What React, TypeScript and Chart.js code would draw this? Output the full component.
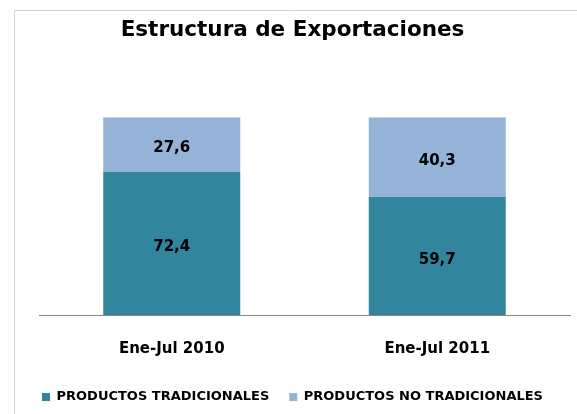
import React, { useEffect, useRef } from "react";
import { Chart, registerables } from "chart.js";

Chart.register(...registerables);

const categories = ["Ene-Jul 2010", "Ene-Jul 2011"];
const tradicionales = [72.4, 59.7];
const noTradicionales = [27.6, 40.3];
const seriesNames = ["PRODUCTOS TRADICIONALES", "PRODUCTOS NO TRADICIONALES"];
const seriesColors = ["#31859C", "#95B3D7"];
const chartTitle = "Estructura de Exportaciones";
const yMax = 100;

const FONT = "'DejaVu Sans', Verdana, sans-serif";

const framePlugin = {
  id: "frame",
  beforeDraw(chart: any) {
    const ctx = chart.ctx;
    ctx.save();
    ctx.fillStyle = "#ffffff";
    ctx.fillRect(0, 0, chart.width, chart.height);
    ctx.strokeStyle = "#d4d4d4";
    ctx.lineWidth = 1;
    ctx.beginPath();
    ctx.moveTo(14.5, chart.height);
    ctx.lineTo(14.5, 10.5);
    ctx.lineTo(chart.width, 10.5);
    ctx.stroke();
    ctx.restore();
  },
};

const segLabelPlugin = {
  id: "segLabels",
  afterDatasetsDraw(chart: any) {
    const ctx = chart.ctx;
    ctx.save();
    ctx.font = `bold 15px ${FONT}`;
    ctx.fillStyle = "#000000";
    ctx.textAlign = "center";
    ctx.textBaseline = "middle";
    chart.data.datasets.forEach((ds: any, i: number) => {
      const meta = chart.getDatasetMeta(i);
      meta.data.forEach((el: any, j: number) => {
        const { x, y, base } = el.getProps(["x", "y", "base"], true);
        const v = ds.data[j] as number;
        ctx.fillText(v.toFixed(1).replace(".", ","), x, (y + base) / 2 + 4);
      });
    });
    ctx.restore();
  },
};

export default function App() {
  const ref = useRef<HTMLCanvasElement | null>(null);

  useEffect(() => {
    document.body.style.margin = "0";
    const canvas = ref.current;
    if (!canvas) return;
    const chart = new Chart(canvas, {
      type: "bar",
      data: {
        labels: categories,
        datasets: [
          {
            label: seriesNames[0],
            data: tradicionales,
            backgroundColor: seriesColors[0],
            borderWidth: 0,
          },
          {
            label: seriesNames[1],
            data: noTradicionales,
            backgroundColor: seriesColors[1],
            borderWidth: 0,
          },
        ],
      },
      options: {
        responsive: false,
        animation: false,
        layout: { padding: { left: 15, right: 7, top: 0, bottom: 0.5 } },
        datasets: { bar: { categoryPercentage: 1, barPercentage: 0.516 } } as any,
        scales: {
          x: {
            stacked: true,
            grid: { display: false, drawTicks: false },
            border: { display: true, color: "#868686", width: 1 },
            ticks: {
              padding: 25.5,
              color: "#000000",
              font: { family: FONT, size: 15, weight: "bold" },
            },
            afterFit: (s: any) => {
              s.height = 55.5;
            },
          },
          y: {
            stacked: true,
            min: 0,
            max: yMax,
            grid: { display: false, drawTicks: false },
            border: { display: false },
            ticks: { display: false },
            afterFit: (s: any) => {
              s.width = 24;
            },
          },
        },
        plugins: {
          title: {
            display: true,
            text: chartTitle,
            color: "#000000",
            font: { family: FONT, size: 21.5, weight: "bold" },
            padding: { top: 17.5, bottom: 74 },
          },
          legend: {
            position: "bottom",
            labels: {
              boxWidth: 8,
              boxHeight: 8,
              padding: 20,
              color: "#000000",
              font: { family: FONT, size: 13, weight: "bold" },
            },
          },
          tooltip: { enabled: false },
        },
      } as any,
      plugins: [framePlugin, segLabelPlugin],
    });
    return () => chart.destroy();
  }, []);

  return (
    <div style={{ width: 577, height: 414 }}>
      <canvas ref={ref} width={577} height={414} style={{ display: "block" }} />
    </div>
  );
}
